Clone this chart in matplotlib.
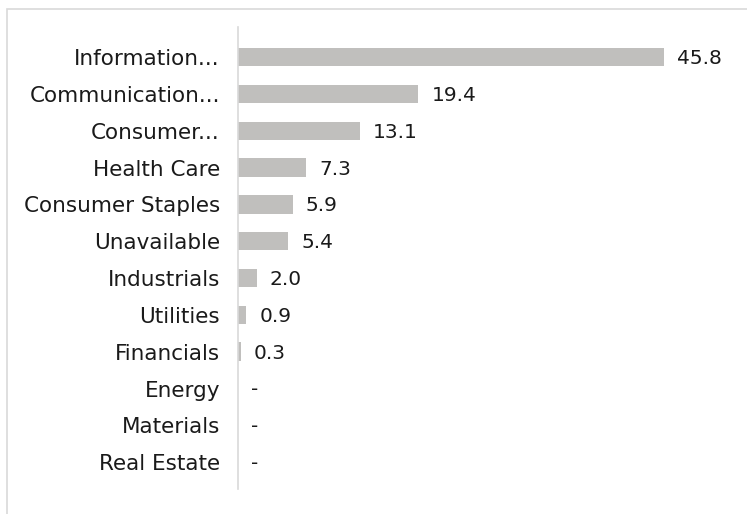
import numpy as np
import matplotlib.pyplot as plt
from matplotlib.patches import Rectangle

# datos
sectores = ["Information...", "Communication...", "Consumer...", "Health Care",
            "Consumer Staples", "Unavailable", "Industrials", "Utilities",
            "Financials", "Energy", "Materials", "Real Estate"]
valores = [45.8, 19.4, 13.1, 7.3, 5.9, 5.4, 2.0, 0.9, 0.3, 0.0, 0.0, 0.0]
etiquetas = ["45.8", "19.4", "13.1", "7.3", "5.9", "5.4", "2.0", "0.9", "0.3", "-", "-", "-"]

plt.rcParams['font.family'] = ['DejaVu Sans']

fig = plt.figure(figsize=(7.47, 5.14), dpi=100)
W, H = 747, 514

# marco gris del grafico
fig.patches.append(Rectangle((7 / W, -0.1), 1.2, 1 - 9 / H + 0.1,
                             transform=fig.transFigure, fill=False,
                             edgecolor='#d9d9d9', linewidth=1.2))

ax = fig.add_axes([238 / W, 1 - 489 / H, (700 - 238) / W, (489 - 27) / H])
y = np.arange(len(sectores))
ax.barh(y, valores, height=0.5, color='#c0bfbd')
ax.set_ylim(len(sectores) - 1 + 0.73, -0.82)
ax.set_xlim(0, (700 - 238) / 9.3)

for i, (v, t) in enumerate(zip(valores, etiquetas)):
    ax.text(v + 1.4, i + 0.04, t, va='center', ha='left', fontsize=14.5, color='#1a1a1a')

ax.set_yticks(y)
ax.set_yticklabels(sectores, fontsize=15.5, color='#1a1a1a')
ax.tick_params(axis='y', length=0, pad=13)
ax.set_xticks([])
for s in ['top', 'right', 'bottom']:
    ax.spines[s].set_visible(False)
ax.spines['left'].set_color('#d9d9d9')
ax.spines['left'].set_linewidth(1.2)

plt.savefig("out.png", dpi=100)
